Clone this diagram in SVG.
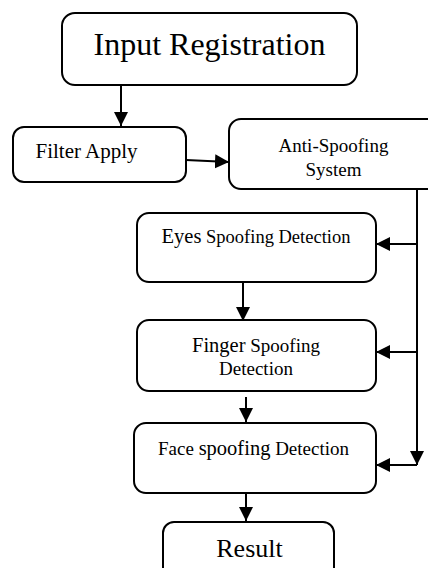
<svg xmlns="http://www.w3.org/2000/svg" width="428" height="568" viewBox="0 0 428 568">
<defs>
<marker id="ah" markerUnits="userSpaceOnUse" markerWidth="15" markerHeight="15" viewBox="0 0 15 15" refX="14" refY="7.5" orient="auto">
<path d="M0,0.5 L14,7.5 L0,14.5 Z" fill="#000"/>
</marker>
<style>
.box{fill:#fff;stroke:#000;stroke-width:2}
.t{font-family:"Liberation Serif","Times New Roman",serif;fill:#000;text-anchor:middle}
.c{fill:none;stroke:#000;stroke-width:2}
</style>
</defs>
<rect width="428" height="568" fill="#fff"/>
<g id="input">
<rect class="box" x="62" y="13" width="295" height="72" rx="13"/>
<text class="t" x="209.5" y="55" font-size="32">Input Registration</text>
</g>
<g id="filter">
<rect class="box" x="13" y="127" width="173" height="55" rx="11"/>
<text class="t" x="86.5" y="158" font-size="21">Filter Apply</text>
</g>
<g id="antispoofing">
<rect class="box" x="229" y="119" width="215" height="70" rx="12"/>
<text class="t" x="333.5" y="152" font-size="19">Anti-Spoofing</text>
<text class="t" x="333.5" y="176" font-size="19">System</text>
</g>
<g id="eyes">
<rect class="box" x="137" y="213" width="239" height="69" rx="12"/>
<text class="t" x="256" y="243" font-size="18.5"><tspan font-size="20.5">Eyes</tspan> Spoofing Detection</text>
</g>
<g id="finger">
<rect class="box" x="137" y="320" width="239" height="71" rx="12"/>
<text class="t" x="256" y="352" font-size="19"><tspan font-size="20.5">Finger</tspan> Spoofing</text>
<text class="t" x="256" y="375" font-size="19">Detection</text>
</g>
<g id="face">
<rect class="box" x="134" y="423" width="242" height="70" rx="12"/>
<text class="t" x="253.5" y="455" font-size="19">Face <tspan font-size="20.5">spoofing</tspan> Detection</text>
</g>
<g id="result">
<rect class="box" x="163" y="522" width="171" height="70" rx="11"/>
<text class="t" x="249.5" y="557" font-size="26">Result</text>
</g>
<g id="connectors">
<path class="c" d="M121 85 V126" marker-end="url(#ah)"/>
<path class="c" d="M186 160 L229 162" marker-end="url(#ah)"/>
<path class="c" d="M417 189 V465" marker-end="url(#ah)"/>
<path class="c" d="M417 465 H376" marker-end="url(#ah)"/>
<path class="c" d="M416 244 H376" marker-end="url(#ah)"/>
<path class="c" d="M416 352 H376" marker-end="url(#ah)"/>
<path class="c" d="M243 282 V321" marker-end="url(#ah)"/>
<path class="c" d="M246 397 V422" marker-end="url(#ah)"/>
<path class="c" d="M246 493 V521" marker-end="url(#ah)"/>
</g>
</svg>
